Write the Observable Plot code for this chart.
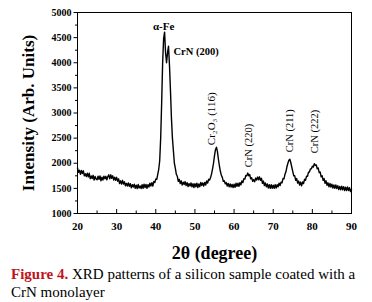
<!DOCTYPE html>
<html>
<head>
<meta charset="utf-8">
<script src="https://cdn.jsdelivr.net/npm/d3@7"></script>
<script src="https://cdn.jsdelivr.net/npm/@observablehq/plot@0.6"></script>
<style>
  html, body { margin: 0; padding: 0; background: #fff; }
  #chart svg { display: block; }
  #cap { font-family: "Liberation Serif", "Times New Roman", serif; font-size: 15px; line-height: 18px; margin: 1px 0 0 11px; white-space: nowrap; color: #000; }
  #cap b { color: #c0141c; }
</style>
</head>
<body>
<div id="chart"></div>
<div id="cap"><b>Figure 4.</b> XRD patterns of a silicon sample coated with a<br>CrN monolayer</div>
<script>
// 2θ sampling grid (degrees)
const angleStart = 20;
const angleStep = 0.25;
// Intensity (Arb. Units), one value per 0.25°
const intensity = [
  1905,1820,1860,1780,1855,1795,1850,1750,1790,1736,1802,1728,1800,1693,1747,1696,1760,1666,1737,1688, // 20–24.75
  1670,1742,1679,1747,1650,1721,1667,1743,1690,1740,1670,1735,1770,1690,1770,1702,1750,1667,1722,1661, // 25–29.75
  1720,1643,1690,1597,1650,1587,1660,1587,1630,1552,1600,1547,1610,1540,1595,1510,1575,1526,1582,1503, // 30–34.75
  1565,1494,1577,1506,1550,1496,1572,1503,1585,1518,1577,1501,1575,1527,1605,1547,1615,1547,1640,1615, // 35–39.75
  1685,1680,1780,1880,2050,2500,3200,4000,4480,4610,4200,4000,4200,4330,3950,3450,2900,2500,2250,2000, // 40–44.75
  1900,1780,1740,1640,1680,1595,1650,1565,1625,1575,1635,1555,1615,1538,1595,1547,1610,1533,1595,1517, // 45–49.75
  1595,1531,1602,1518,1590,1534,1617,1556,1610,1547,1620,1567,1650,1605,1680,1665,1715,1790,1890,2000, // 50–54.75
  2150,2270,2320,2230,2080,1950,1840,1760,1720,1640,1650,1590,1615,1545,1600,1530,1590,1525,1580,1515, // 55–59.75
  1585,1523,1601,1540,1605,1540,1615,1570,1650,1615,1690,1685,1755,1750,1805,1750,1775,1690,1710,1640, // 60–64.75
  1675,1630,1705,1665,1725,1670,1730,1660,1700,1600,1645,1555,1610,1530,1590,1508,1572,1503,1575,1502, // 65–69.75
  1565,1502,1575,1505,1575,1530,1605,1555,1625,1610,1695,1690,1780,1830,1930,2000,2060,2080,2010,1920, // 70–74.75
  1835,1750,1750,1660,1695,1605,1645,1568,1625,1552,1630,1595,1680,1660,1740,1740,1820,1825,1885,1890, // 75–79.75
  1940,1925,1990,1960,1965,1890,1905,1815,1825,1730,1750,1660,1695,1600,1650,1560,1610,1532,1600,1527, // 80–84.75
  1585,1505,1570,1500,1570,1495,1555,1475,1540,1473,1545,1472,1535,1457,1525,1457,1530,1455,1515,1435, // 85–89.75
  1480                                                                                                 // 90
];

// Axis ticks
const xMajorTicks = [20, 30, 40, 50, 60, 70, 80, 90];
const xMinorTicks = [25, 35, 45, 55, 65, 75, 85];
const yMajorTicks = [1000, 1500, 2000, 2500, 3000, 3500, 4000, 4500, 5000];
const yMinorTicks = [1250, 1750, 2250, 2750, 3250, 3750, 4250, 4750];

// Peak annotations (peak angle and peak intensity)
const peakLabels = ["α-Fe", "CrN (200)", "Cr₂O₃ (116)", "CrN (220)", "CrN (211)", "CrN (222)"];
const peakAngles = [42.25, 43.25, 55.5, 63.6, 74.2, 80.6];
const peakHeights = [4610, 4330, 2320, 1790, 2080, 1960];

const xTitle = "2θ (degree)";
const yTitle = "Intensity (Arb. Units)";

const rows = intensity.map((v, i) => ({angle: angleStart + i * angleStep, value: v}));
const peaks = peakLabels.map((t, i) => ({label: t, angle: peakAngles[i], value: peakHeights[i]}));

const serif = "'Liberation Serif', 'Times New Roman', serif";
const plotH = 264 - 12 - 51; // inner frame height

const chart = Plot.plot({
  width: 372,
  height: 264,
  marginLeft: 77,
  marginRight: 21,
  marginTop: 12,
  marginBottom: 51,
  style: {fontFamily: serif, background: "white", color: "black", overflow: "visible"},
  x: {domain: [20, 90]},
  y: {domain: [1000, 5000]},
  marks: [
    Plot.line(rows, {x: "angle", y: "value", stroke: "black", strokeWidth: 1.4}),
    Plot.frame({stroke: "black", strokeWidth: 1}),
    // x ticks (inward)
    Plot.ruleX(xMajorTicks, {x: d => d, insetTop: plotH - 4, stroke: "black"}),
    Plot.ruleX(xMinorTicks, {x: d => d, insetTop: plotH - 2.5, stroke: "black"}),
    Plot.axisX({ticks: xMajorTicks, tickSize: 0, tickPadding: 9, tickFormat: d => String(d),
      fontSize: 11, fontWeight: "bold", label: null}),
    // y ticks (outward)
    Plot.axisY({ticks: yMajorTicks, tickSize: 3.5, tickPadding: 2.5, tickFormat: d => String(d),
      fontSize: 10, fontWeight: "bold", letterSpacing: "1.2px", label: null}),
    Plot.axisY({ticks: yMinorTicks, tickSize: 2, tickFormat: () => "", label: null}),
    // axis titles
    Plot.text([yTitle], {text: d => d, frameAnchor: "left", dx: -44, rotate: -90,
      textAnchor: "middle", lineAnchor: "bottom", fontSize: 17, fontWeight: "bold"}),
    Plot.text([xTitle], {text: d => d, frameAnchor: "bottom", dy: 45, textAnchor: "middle",
      lineAnchor: "bottom", fontSize: 18, fontWeight: "bold"}),
    // peak labels
    Plot.text(peaks.slice(0, 1), {x: "angle", y: "value", text: "label", textAnchor: "middle",
      lineAnchor: "bottom", dx: -1, dy: -2, fontSize: 11, fontWeight: "bold"}),
    Plot.text(peaks.slice(1, 2), {x: "angle", y: "value", text: "label", textAnchor: "start",
      lineAnchor: "bottom", dx: 5, dy: 9, fontSize: 10.5, fontWeight: "bold"}),
    Plot.text(peaks.slice(2, 3), {x: "angle", y: "value", text: "label", textAnchor: "start",
      lineAnchor: "bottom", rotate: -90, dx: -1, dy: -2, fontSize: 11}),
    Plot.text(peaks.slice(3, 4), {x: "angle", y: "value", text: "label", textAnchor: "start",
      lineAnchor: "bottom", rotate: -90, dx: 3.6, dy: -6.6, fontSize: 10.5}),
    Plot.text(peaks.slice(4, 5), {x: "angle", y: "value", text: "label", textAnchor: "start",
      lineAnchor: "bottom", rotate: -90, dx: 3.6, dy: -7, fontSize: 10.5}),
    Plot.text(peaks.slice(5, 6), {x: "angle", y: "value", text: "label", textAnchor: "start",
      lineAnchor: "bottom", rotate: -90, dx: 2.8, dy: -12, fontSize: 10.5})
  ]
});
document.getElementById("chart").appendChild(chart);
</script>
</body>
</html>
